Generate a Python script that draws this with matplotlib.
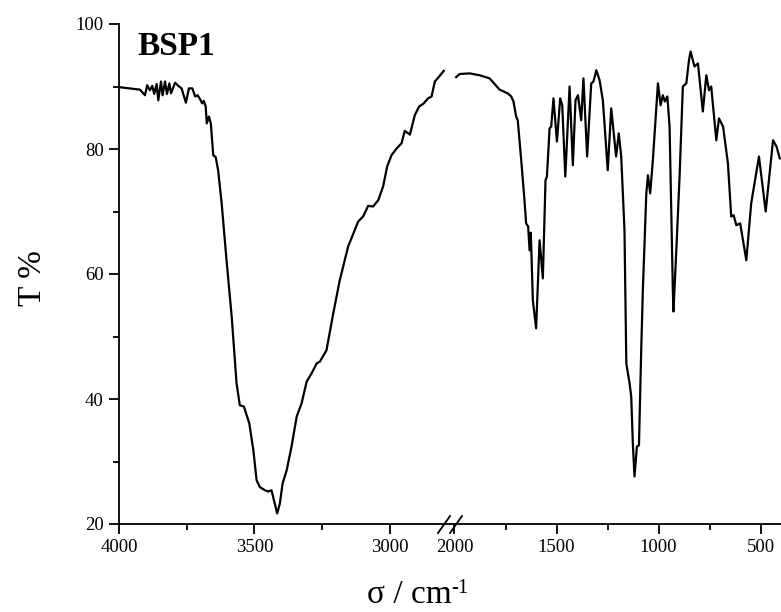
import matplotlib
matplotlib.use("Agg")
import matplotlib.pyplot as plt
from matplotlib.ticker import MultipleLocator
from matplotlib.lines import Line2D

plt.rcParams['font.family'] = ['Liberation Serif', 'DejaVu Serif']

# high wavenumber segment (4000 .. ~2800 cm-1)
left_wn = [4000, 3923, 3904, 3896, 3886, 3877, 3870, 3861, 3855, 3845,
           3839, 3830, 3823, 3814, 3808, 3793, 3781, 3769, 3753, 3742,
           3729, 3719, 3710, 3701, 3693, 3687, 3680, 3676, 3668, 3661,
           3652, 3643, 3634, 3621, 3603, 3584, 3566, 3554, 3539, 3519,
           3504, 3492, 3480, 3461, 3449, 3437, 3428, 3416, 3406, 3396,
           3381, 3363, 3344, 3326, 3307, 3289, 3270, 3258, 3234, 3209,
           3185, 3154, 3117, 3099, 3080, 3062, 3043, 3025, 3010, 2994,
           2975, 2957, 2945, 2926, 2908, 2892, 2875, 2859, 2846, 2834,
           2818, 2801]
left_t = [89.9, 89.5, 88.6, 90.2, 89.4, 90.1, 88.8, 90.4, 87.8, 90.8,
          88.6, 90.8, 88.8, 90.5, 88.9, 90.6, 90.1, 89.7, 87.4, 89.7,
          89.7, 88.4, 88.6, 88.0, 87.3, 87.7, 86.8, 84.1, 85.2, 84.1,
          79.0, 78.7, 76.6, 71.3, 62.2, 53.2, 42.5, 39.0, 38.8, 36.1,
          31.8, 27.0, 25.9, 25.4, 25.2, 25.4, 23.8, 21.7, 23.3, 26.5,
          28.6, 32.4, 37.2, 39.3, 42.8, 44.1, 45.7, 46.0, 47.8, 53.7,
          59.0, 64.4, 68.4, 69.2, 70.9, 70.8, 71.8, 74.0, 77.2, 79.0,
          80.1, 80.9, 82.9, 82.3, 85.4, 86.8, 87.3, 88.1, 88.4, 90.8,
          91.6, 92.5]

# fingerprint segment (2000 .. 400 cm-1)
right_wn = [1992, 1975, 1926, 1877, 1828, 1779, 1739, 1722, 1711, 1698,
            1690, 1673, 1657, 1649, 1639, 1632, 1626, 1616, 1600, 1583,
            1567, 1554, 1547, 1534, 1526, 1515, 1498, 1482, 1472, 1457,
            1436, 1420, 1407, 1395, 1379, 1368, 1350, 1330, 1319, 1305,
            1289, 1273, 1249, 1232, 1208, 1195, 1183, 1167, 1158, 1142,
            1134, 1126, 1118, 1106, 1096, 1085, 1077, 1060, 1052, 1041,
            1028, 1003, 990, 979, 969, 957, 946, 930, 927, 913,
            897, 881, 864, 851, 843, 824, 807, 783, 766, 753,
            742, 717, 704, 684, 660, 644, 632, 619, 600, 570,
            546, 508, 475, 439, 422, 406]
right_t = [91.5, 92.0, 92.1, 91.8, 91.3, 89.5, 88.9, 88.4, 87.6, 85.2,
           84.6, 78.2, 71.8, 68.1, 67.6, 63.8, 66.6, 55.8, 51.3, 65.4,
           59.3, 75.0, 75.6, 83.3, 83.6, 88.1, 81.2, 88.1, 87.0, 75.6,
           90.0, 77.4, 87.8, 88.6, 84.6, 91.3, 78.8, 90.5, 90.8, 92.6,
           91.0, 87.8, 76.6, 86.5, 78.8, 82.5, 78.8, 67.0, 45.7, 42.5,
           40.4, 32.9, 27.6, 32.4, 32.6, 47.8, 57.4, 72.9, 75.8, 72.9,
           78.2, 90.5, 87.0, 88.6, 87.6, 88.4, 83.6, 57.4, 54.0, 63.8,
           75.6, 90.0, 90.5, 94.2, 95.6, 93.2, 93.7, 86.0, 91.8, 89.4,
           90.0, 81.4, 84.9, 83.6, 77.7, 69.2, 69.4, 67.8, 68.1, 62.2,
           71.3, 78.8, 70.0, 81.4, 80.4, 78.5]

W, H = 781, 612
fig = plt.figure(figsize=(W / 100, H / 100), dpi=100)

x0, xm, x1 = 119, 450, 781
ybot, ytop = 524, 24
b = 1 - ybot / H
h = (ybot - ytop) / H
ax1 = fig.add_axes([x0 / W, b, (xm - x0) / W, h])
ax2 = fig.add_axes([xm / W, b, (x1 - xm) / W, h])

for ax, wn, t in ((ax1, left_wn, left_t), (ax2, right_wn, right_t)):
    ax.plot(wn, t, color='black', lw=1.6)
    ax.set_ylim(20, 100)
    ax.spines['top'].set_visible(False)
    ax.spines['right'].set_visible(False)
    for s in ax.spines.values():
        s.set_linewidth(1.3)
    ax.tick_params(which='major', direction='out', length=7, width=1.3,
                   labelsize=13.5, pad=4)
    ax.tick_params(which='minor', direction='out', length=4.5, width=1.3)
    ax.xaxis.set_minor_locator(MultipleLocator(250))
    ax.patch.set_alpha(0)

ax1.set_xlim(4000, 2778)
ax1.set_xticks([4000, 3500, 3000])
ax1.yaxis.set_major_locator(MultipleLocator(20))
ax1.yaxis.set_minor_locator(MultipleLocator(10))

ax2.set_xlim(2022, 400)
ax2.set_xticks([2000, 1500, 1000, 500])
ax2.spines['left'].set_visible(False)
ax2.tick_params(axis='y', which='both', left=False, labelleft=False)

# axis break marks
for xc in (444, 456):
    fig.add_artist(Line2D([(xc - 6) / W, (xc + 6) / W],
                          [1 - 533 / H, 1 - 516 / H],
                          transform=fig.transFigure, color='black', lw=1.3))

ax1.text(0.055, 0.955, 'BSP1', transform=ax1.transAxes, fontsize=24,
         fontweight='bold', va='center', ha='left')

# x label with a plain hyphen superscript
xl = fig.text(409 / W, 1 - 603 / H, 'σ / cm', fontsize=24,
              ha='center', va='baseline')
fig.add_artist(plt.Annotation('-1', xy=(1.0, 1.02), xycoords=xl,
                              fontsize=15, ha='left', va='top'))
fig.text(33 / W, 1 - 278 / H, 'T %', fontsize=24, rotation=90,
         ha='center', va='center')

fig.savefig('out.png', dpi=100)
